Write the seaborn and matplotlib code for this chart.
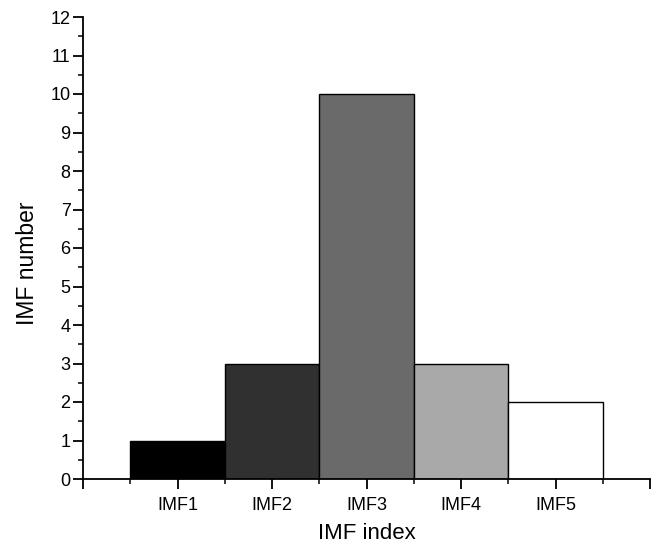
import matplotlib
matplotlib.use("Agg")
import matplotlib.pyplot as plt
import seaborn as sns
import pandas as pd
from matplotlib.ticker import FixedLocator

categories = ["IMF1", "IMF2", "IMF3", "IMF4", "IMF5"]
values = [1, 3, 10, 3, 2]
colors = ["#000000", "#303030", "#6a6a6a", "#a9a9a9", "#ffffff"]

sns.set_theme(style="ticks")
plt.rcParams["font.family"] = ["Liberation Sans", "DejaVu Sans"]

df = pd.DataFrame({"cat": categories, "val": values})

fig = plt.figure(figsize=(6.57, 5.46), dpi=100)
ax = fig.add_axes([83/657, 67/546, (650-83)/657, (479-17)/546])

sns.barplot(data=df, x="cat", y="val", hue="cat", palette=colors, order=categories,
            width=1.0, edgecolor="black", linewidth=1.0, legend=False, ax=ax, saturation=1)

ax.set_xlim(-1, 5)
ax.set_ylim(0, 12)
ax.set_xticks(range(-1, 6))
ax.set_xticklabels([""] + categories + [""])
ax.xaxis.set_minor_locator(FixedLocator([i + 0.5 for i in range(-1, 5)]))
ax.set_yticks(range(0, 13))
ax.yaxis.set_minor_locator(FixedLocator([i + 0.5 for i in range(0, 12)]))

for s in ["top", "right"]:
    ax.spines[s].set_visible(False)
for s in ["left", "bottom"]:
    ax.spines[s].set_linewidth(1.3)
    ax.spines[s].set_color("black")

ax.tick_params(axis="both", which="major", direction="out", length=7, width=1.3,
               color="black", labelsize=13, labelcolor="black")
ax.tick_params(axis="y", which="major", labelsize=13, pad=2)
ax.tick_params(axis="both", which="minor", direction="out", length=3.5, width=1.1, color="black")
ax.tick_params(axis="x", which="major", pad=6)

ax.set_xlabel("IMF index", fontsize=16, color="black")
ax.xaxis.set_label_coords(0.5, -0.096)
ax.set_ylabel("IMF number", fontsize=16.5, color="black")
ax.yaxis.set_label_coords(-0.078, 0.468)

fig.savefig("out.png", dpi=100)
